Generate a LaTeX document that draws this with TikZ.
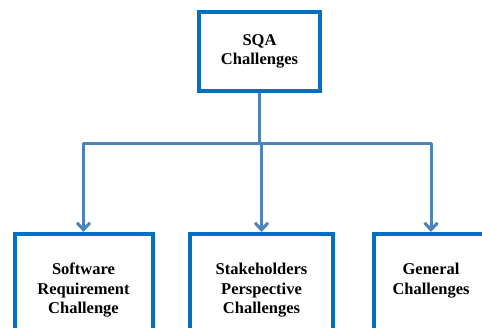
\documentclass[tikz,border=0pt]{standalone}
\usepackage{fontspec}
\setmainfont{Liberation Serif}
\usetikzlibrary{positioning,arrows.meta}
\definecolor{boxblue}{HTML}{0070C0}
\definecolor{linkblue}{HTML}{4F81BD}

\begin{document}
\begin{tikzpicture}[x=1pt,y=-1pt,
  box/.style={draw=boxblue,line width=4pt,rectangle,inner sep=0pt},
  txt/.style={align=center,inner sep=0pt,font=\fontsize{16.5}{19.5}\selectfont\bfseries},
  link/.style={draw=linkblue,line width=3pt,line join=round},
  >={Straight Barb[length=7pt,width=13pt]}]

\useasboundingbox (0,0) rectangle (482,328);
\clip (0,0) rectangle (482,328);

\node[box,txt,minimum width=121pt,minimum height=79pt] (sqa) at (259.5,51.5) {SQA\\Challenges};

\node[box,minimum width=138pt,minimum height=110pt] (swr) at (83.5,289) {};
\node[box,minimum width=143pt,minimum height=110pt,right=33.5pt of swr] (shp) {};
\node[box,minimum width=115pt,minimum height=110pt,right=36.5pt of shp] (gen) {};

\node[txt,below=31pt of swr.north] (swrtxt) {Software\\Requirement\\Challenge};
\node[txt,below=31pt of shp.north] (shptxt) {Stakeholders\\Perspective\\Challenges};
\node[txt,below=31pt of gen.north] (gentxt) {General\\Challenges};

%arrows
\coordinate (fork) at (sqa.south |- 0,144);
\draw[link] (sqa) -- (fork);
\draw[link,->] (fork) -| (swr);
\draw[link,->] (fork) -| (shp);
\draw[link,->] (fork) -| (gen);
\end{tikzpicture}
\end{document}
